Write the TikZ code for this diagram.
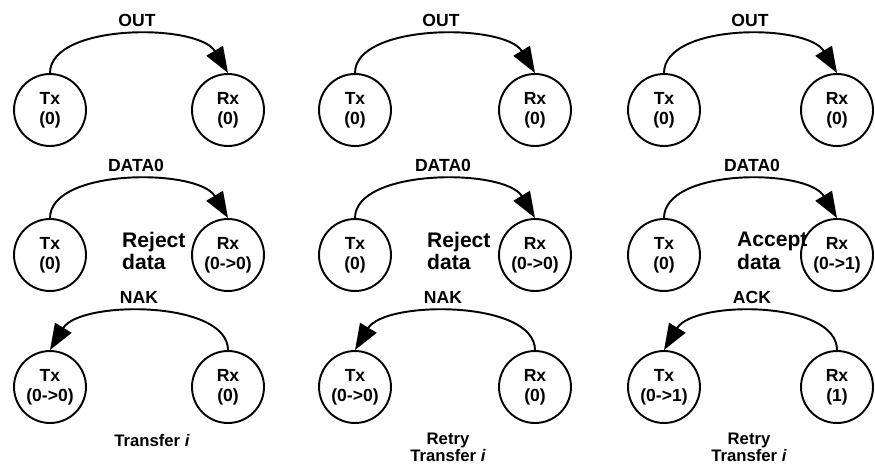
\documentclass[tikz,border=0pt]{standalone}
\usepackage{fontspec}
\setmainfont{Liberation Sans}
\usetikzlibrary{arrows.meta}

\begin{document}
\begin{tikzpicture}[x=0.02cm, y=-0.02cm,
	state/.style={circle, draw, line width=1.1pt, minimum size=1.44cm, inner sep=0pt, align=center, font=\bfseries\fontsize{10}{11.5}\selectfont},
	msg/.style={line width=1.1pt, -{Triangle[length=0.52cm, width=0.38cm]}},
	tag/.style={font=\bfseries\fontsize{10}{11}\selectfont},
	note/.style={anchor=west, align=left, font=\bfseries\fontsize{12}{13}\selectfont},
	caption/.style={align=center, font=\bfseries\fontsize{9.5}{9.5}\selectfont}]
	\useasboundingbox (0,0) rectangle (875,467);

	% first transfer
	\node[state] (tx11) at (50,110) {Tx\\(0)};
	\node[state] (rx11) at (228,110) {Rx\\(0)};
	\node[state] (tx12) at (50,255) {Tx\\(0)};
	\node[state] (rx12) at (228,255) {Rx\\(0->0)};
	\node[state] (tx13) at (50,387) {Tx\\(0->0)};
	\node[state] (rx13) at (228,387) {Rx\\(0)};
	\node[tag] (out1) at (137,20) {OUT};
	\node[tag] (data1) at (136,165) {DATA0};
	\node[tag] (nak1) at (139,297) {NAK};
	\node[note] (note1) at (116,251) {Reject\\data};
	\node[caption] (cap1) at (152,441) {Transfer \textit{i}};
	\draw[msg] (tx11.north) .. controls +(0,-50) and +(-30,-50) .. (rx11.north);
	\draw[msg] (tx12.north) .. controls +(0,-50) and +(-30,-50) .. (rx12.north);
	\draw[msg] (rx13.north) .. controls +(0,-50) and +(30,-50) .. (tx13.north);

	% second transfer
	\node[state] (tx21) at (355,110) {Tx\\(0)};
	\node[state] (rx21) at (535,110) {Rx\\(0)};
	\node[state] (tx22) at (355,255) {Tx\\(0)};
	\node[state] (rx22) at (535,255) {Rx\\(0->0)};
	\node[state] (tx23) at (355,387) {Tx\\(0->0)};
	\node[state] (rx23) at (535,387) {Rx\\(0)};
	\node[tag] (out2) at (441,20) {OUT};
	\node[tag] (data2) at (443,165) {DATA0};
	\node[tag] (nak2) at (443,297) {NAK};
	\node[note] (note2) at (421,251) {Reject\\data};
	\node[caption] (cap2) at (448,447) {Retry\\Transfer \textit{i}};
	\draw[msg] (tx21.north) .. controls +(0,-50) and +(-30,-50) .. (rx21.north);
	\draw[msg] (tx22.north) .. controls +(0,-50) and +(-30,-50) .. (rx22.north);
	\draw[msg] (rx23.north) .. controls +(0,-50) and +(30,-50) .. (tx23.north);

	% third transfer
	\node[state] (tx31) at (664,110) {Tx\\(0)};
	\node[state] (rx31) at (837,110) {Rx\\(0)};
	\node[state] (tx32) at (664,255) {Tx\\(0)};
	\node[state] (rx32) at (837,255) {Rx\\(0->1)};
	\node[state] (tx33) at (664,387) {Tx\\(0->1)};
	\node[state] (rx33) at (837,387) {Rx\\(1)};
	\node[tag] (out3) at (750,20) {OUT};
	\node[tag] (data3) at (752,165) {DATA0};
	\node[tag] (ack3) at (752,297) {ACK};
	\node[note] (note3) at (731,251) {Accept\\data};
	\node[caption] (cap3) at (749,447) {Retry\\Transfer \textit{i}};
	\draw[msg] (tx31.north) .. controls +(0,-50) and +(-30,-50) .. (rx31.north);
	\draw[msg] (tx32.north) .. controls +(0,-50) and +(-30,-50) .. (rx32.north);
	\draw[msg] (rx33.north) .. controls +(0,-50) and +(30,-50) .. (tx33.north);
\end{tikzpicture}
\end{document}
